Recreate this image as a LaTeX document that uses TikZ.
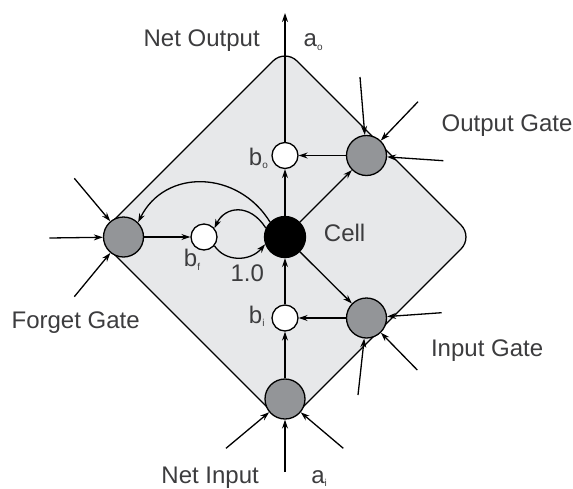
\documentclass[tikz,border=0pt]{standalone}
\usepackage{fontspec}
\setmainfont{Liberation Sans}
\usetikzlibrary{arrows.meta}
\definecolor{diamondfill}{RGB}{231,232,234}
\definecolor{gatefill}{RGB}{147,149,152}
\definecolor{txt}{RGB}{60,60,62}
\newcommand\lsub[1]{\raisebox{-1.7pt}{\fontsize{5}{5}\selectfont #1}}
\begin{document}
\begin{tikzpicture}[x=0.5pt,y=-0.5pt,
  line width=0.65pt,
  conn/.style={-{Stealth[length=4.5pt,width=3pt]}},
  gatenode/.style={circle,draw,fill=gatefill,minimum size=20pt,inner sep=0pt},
  biasnode/.style={circle,draw,fill=white,minimum size=13pt,inner sep=0pt},
  cellnode/.style={circle,draw,fill=black,minimum size=20.5pt,inner sep=0pt},
  lbl/.style={anchor=base west,inner sep=0pt,text=txt,font=\fontsize{12}{14}\selectfont},
]
\useasboundingbox (0,0) rectangle (573,488);
% diamond
\draw[fill=diamondfill,rounded corners=8.5pt] (285,49) -- (473,237) -- (285,425) -- (97,237) -- cycle;
% nodes
\node[cellnode] (cell) at (285,237) {};
\node[biasnode] (bo) at (285,155.5) {};
\node[biasnode] (bi) at (285,318) {};
\node[biasnode] (bf) at (204,237) {};
\node[gatenode] (og) at (366.5,155.5) {};
\node[gatenode] (ig) at (366.5,318) {};
\node[gatenode] (ni) at (285,399) {};
\node[gatenode] (fg) at (123.5,237) {};
% free ends
\coordinate (top) at (285,13);
\coordinate (og1) at (360,77);
\coordinate (og2) at (418,101.7);
\coordinate (og3) at (443.3,160.7);
\coordinate (ig1) at (441.7,312.7);
\coordinate (ig2) at (358,395);
\coordinate (ig3) at (417.3,370);
\coordinate (ni1) at (226,448.3);
\coordinate (ni2) at (285,472);
\coordinate (ni3) at (343.3,448.3);
\coordinate (fg1) at (74.3,178.3);
\coordinate (fg2) at (49.3,238);
\coordinate (fg3) at (74.3,296.7);
% internal connectors
\draw[conn] (bo) -- (top);
\draw[conn] (cell) -- (bo);
\draw[conn] (og) -- (bo);
\draw[conn] (cell) -- (og);
\draw[conn] (cell) -- (ig);
\draw[conn] (ig) -- (bi);
\draw[conn] (bi) -- (cell);
\draw[conn] (ni) -- (bi);
\draw[conn] (fg) -- (bf);
\draw[conn] (bf.-40) .. controls (225,262) and (250,262) .. (cell.200);
\draw[conn] (cell.155) .. controls (250,203) and (225,206) .. (bf.40);
\draw[conn] (cell.135) .. controls (238,170) and (165,168) .. (fg.45);
% external inputs
\draw[conn] (og1) -- (og);
\draw[conn] (og2) -- (og);
\draw[conn] (og3) -- (og);
\draw[conn] (ig1) -- (ig);
\draw[conn] (ig2) -- (ig);
\draw[conn] (ig3) -- (ig);
\draw[conn] (ni1) -- (ni);
\draw[conn] (ni2) -- (ni);
\draw[conn] (ni3) -- (ni);
\draw[conn] (fg1) -- (fg);
\draw[conn] (fg2) -- (fg);
\draw[conn] (fg3) -- (fg);
% labels
\node[lbl] (tno) at (143,46.7) {Net Output};
\node[lbl] (tao) at (303,46.7) {a\lsub{o}};
\node[lbl] (tog) at (441,131.7) {Output Gate};
\node[lbl] (tcell) at (323.3,241.7) {Cell};
\node[lbl] (tbo) at (248.3,165) {b\lsub{o}};
\node[lbl] (tbf) at (183.3,266.7) {b\lsub{f}};
\node[lbl] (tone) at (230,281.7) {1.0};
\node[lbl] (tfg) at (11,328.3) {Forget Gate};
\node[lbl] (tbi) at (248.3,323.3) {b\lsub{i}};
\node[lbl] (tig) at (430.4,356.7) {Input Gate};
\node[lbl] (tni) at (160.8,483.3) {Net Input};
\node[lbl] (tai) at (310.6,483.3) {a\lsub{i}};
\end{tikzpicture}
\end{document}
